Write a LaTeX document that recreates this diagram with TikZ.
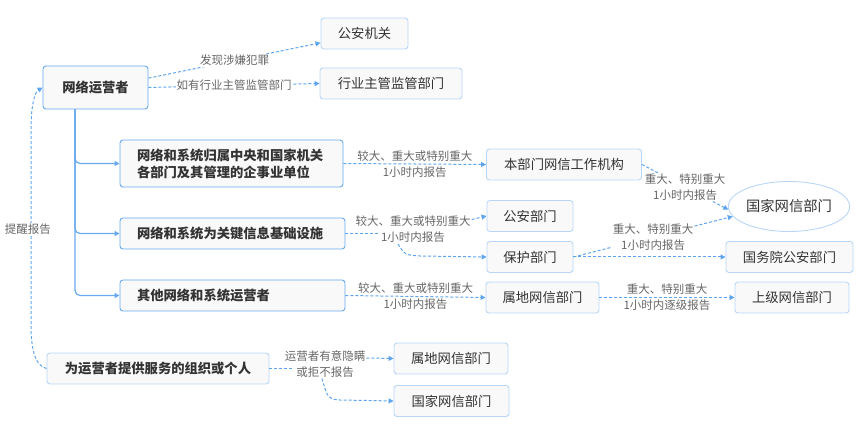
\documentclass[tikz,border=0pt]{standalone}
\usepackage{fontspec}
\setmainfont{Noto Sans CJK SC}
\usetikzlibrary{arrows.meta,shapes.geometric}
\definecolor{lineblue}{HTML}{5EA5EE}
\definecolor{mainedge}{HTML}{68A9F0}
\definecolor{leafedge}{HTML}{B8D6F8}
\definecolor{boxbg}{HTML}{F9F9F9}
\definecolor{boxtxt}{HTML}{333333}
\definecolor{lbltxt}{HTML}{666666}

\begin{document}
\begin{tikzpicture}[x=1pt,y=-1pt,
  box/.style={draw=leafedge,fill=boxbg,rounded corners=3pt,line width=0.9pt,text=boxtxt,
    font=\fontsize{13.3}{17}\selectfont,minimum height=31pt,inner xsep=0pt,inner ysep=0pt},
  mainbox/.style={box,draw=mainedge,font=\fontsize{13.3}{17}\selectfont\bfseries},
  lbl/.style={text=lbltxt,font=\fontsize{11.5}{16}\selectfont,align=center,inner sep=1pt},
  dline/.style={draw=lineblue,line width=1pt,dash pattern=on 3pt off 2pt},
  darrow/.style={dline,-{Triangle[length=5pt,width=5pt]}},
  tree/.style={draw=mainedge,line width=1.2pt,rounded corners=5pt,-{Triangle[length=5pt,width=5pt]}}]
\useasboundingbox (0,0) rectangle (865,427);

% operator and first branch
\node[mainbox,minimum width=105pt,minimum height=43pt] (op) at (95.5,87.5) {网络运营者};
\node[box,minimum width=87pt] (gaj) at (364.5,33.5) {公安机关};
\node[box,minimum width=142pt] (hyzg) at (391,83.5) {行业主管监管部门};
\draw[darrow] (op.10) -- node[lbl,fill=white] {发现涉嫌犯罪} (gaj.192);
\draw[darrow] (op.east) -- node[lbl,fill=white] {如有行业主管监管部门} (hyzg.west);

% three kinds of operators
\node[mainbox,minimum width=223pt,minimum height=47pt,text width=189pt,align=left] (zy) at (231.5,163.5)
  {网络和系统归属中央和国家机关\\各部门及其管理的企事业单位};
\node[mainbox,minimum width=225pt,text width=191pt,align=left] (gj) at (232.5,233.5) {网络和系统为关键信息基础设施};
\node[mainbox,minimum width=225pt,text width=191pt,align=left] (qt) at (232.5,295.5) {其他网络和系统运营者};
\draw[tree] ([xshift=-20.5pt]op.south) |- (zy.west);
\draw[tree] ([xshift=-20.5pt]op.south) |- (gj.west);
\draw[tree] ([xshift=-20.5pt]op.south) |- (qt.west);

% receiving departments
\node[box,minimum width=155pt] (bbm) at (564,164.5) {本部门网信工作机构};
\node[box,minimum width=86pt] (gabm) at (530,216) {公安部门};
\node[box,minimum width=86pt] (bh) at (530,257) {保护部门};
\node[box,minimum width=113pt] (sd1) at (542.5,297.5) {属地网信部门};
\node[ellipse,draw=leafedge,fill=white,line width=0.9pt,text=boxtxt,font=\fontsize{14.3}{17}\selectfont,
  minimum width=108pt,minimum height=50pt,inner sep=0pt] (guo) at (789,206.5) {国家网信部门};
\node[box,minimum width=127pt] (gwy) at (789.5,257) {国务院公安部门};
\node[box,minimum width=114pt] (sj) at (792,297.5) {上级网信部门};

\draw[darrow] (zy.east) -- node[lbl] {较大、重大或特别重大\\1小时内报告} (bbm.west);
\draw[darrow] (qt.east) -- node[lbl] {较大、重大或特别重大\\1小时内报告} (sd1.west);
\node[lbl] (b2) at (413,229.5) {较大、重大或特别重大\\1小时内报告};
\coordinate (b2in) at (379,233.5);
\draw[dline] (gj.east) -- (b2in);
\draw[darrow] ([yshift=10pt]b2.east) -- (gabm.west);
\draw[darrow] ([xshift=-15pt]b2.south) .. controls (405,255) .. (420,256) -- (bh.west);

\draw[darrow] (bh.east) -- (gwy.west);
\draw[darrow] (bh.east) -- node[lbl,fill=white] {重大、特别重大\\1小时内报告} (guo.190);
\draw[darrow] (bbm.east) -- node[lbl,fill=white] {重大、特别重大\\1小时内报告} (guo.183);
\draw[darrow] (sd1.east) -- node[lbl] {重大、特别重大\\1小时内逐级报告} (sj.west);

% service providers
\node[box,font=\fontsize{13.3}{17}\selectfont\bfseries,minimum width=222pt] (fw) at (158,368.5) {为运营者提供服务的组织或个人};
\node[box,minimum width=114pt] (sd2) at (451,358.5) {属地网信部门};
\node[box,minimum width=115pt] (gj2) at (451.5,401) {国家网信部门};
\node[lbl] (b5) at (325,364) {运营者有意隐瞒\\或拒不报告};
\coordinate (b5in) at (294,368.5);
\draw[dline] (fw.east) -- (b5in);
\draw[darrow] ([yshift=6pt]b5.east) -- (sd2.west);
\draw[darrow] ([xshift=-3pt]b5.south) .. controls (328,399) .. (340,400) -- (gj2.west);

\draw[darrow] (fw.west) .. controls (36,366) and (31,352) .. (31,325) -- (31,130) .. controls (31,104) and (35,92) .. (op.west);
\node[lbl,fill=white] (tx) at (28,229) {提醒报告};
\end{tikzpicture}
\end{document}
